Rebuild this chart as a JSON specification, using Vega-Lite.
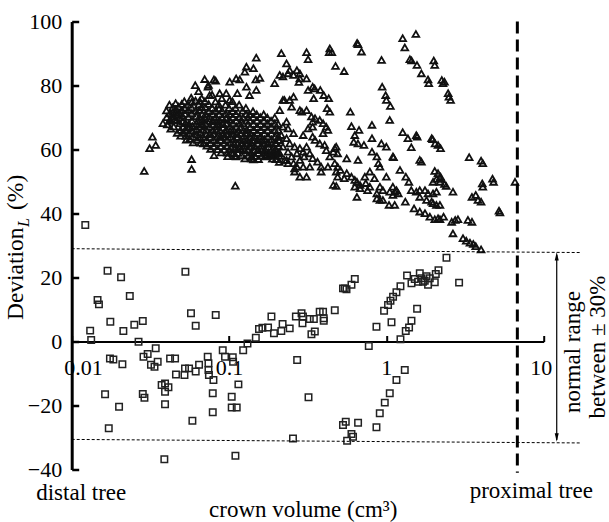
{
  "$schema": "https://vega.github.io/schema/vega-lite/v6.json",
  "width": 472,
  "height": 448,
  "autosize": {"type": "none"},
  "padding": {"left": 71.7, "top": 21.5, "right": 65.3, "bottom": 52.5},
  "config": {
    "font": "Liberation Serif",
    "view": {"stroke": null},
    "axis": {"grid": false, "title": null, "labelFont": "Liberation Serif"},
    "axisX": {"offset": -128, "format": "~g",
      "domainColor": "#000000", "domainWidth": 2, "tickColor": "#000000", "tickWidth": 2, "tickSize": -6,
      "labelFont": "Liberation Serif", "labelFontSize": 22, "labelColor": "#000000", "labelPadding": 22,
      "labelFlush": true, "labelFlushOffset": 8},
    "axisY": {"domainColor": "#000000", "domainWidth": 3, "tickColor": "#000000", "tickWidth": 2.5, "tickSize": -7,
      "labelFont": "Liberation Serif", "labelFontSize": 22, "labelColor": "#000000", "labelPadding": 17}
  },
  "datasets": {
    "squares": [
      {"volume":0.0122,"deviation":36.4},{"volume":0.0169,"deviation":22.1},{"volume":0.0206,"deviation":20.1},{"volume":0.0528,"deviation":21.8},
      {"volume":0.0146,"deviation":13.0},{"volume":0.0149,"deviation":11.6},{"volume":0.0234,"deviation":14.2},{"volume":0.0176,"deviation":6.2},
      {"volume":0.0131,"deviation":3.4},{"volume":0.0213,"deviation":3.3},{"volume":0.025,"deviation":5.2},{"volume":0.0283,"deviation":6.4},
      {"volume":0.0573,"deviation":8.8},{"volume":0.0614,"deviation":4.9},{"volume":0.0823,"deviation":8.3},{"volume":0.0133,"deviation":0.5},
      {"volume":0.0266,"deviation":-0.1},{"volume":0.0175,"deviation":-5.3},{"volume":0.0184,"deviation":-5.6},{"volume":0.021,"deviation":-7.1},
      {"volume":0.0342,"deviation":-2.1},{"volume":0.0304,"deviation":-3.9},{"volume":0.0286,"deviation":-4.8},{"volume":0.0352,"deviation":-6.3},
      {"volume":0.0319,"deviation":-7.3},{"volume":0.0336,"deviation":-7.9},{"volume":0.0422,"deviation":-5.3},{"volume":0.0454,"deviation":-5.3},
      {"volume":0.046,"deviation":-10.3},{"volume":0.0521,"deviation":-10.5},{"volume":0.0525,"deviation":-8.4},{"volume":0.0557,"deviation":-8.4},
      {"volume":0.0614,"deviation":-9.4},{"volume":0.0645,"deviation":-7.3},{"volume":0.0732,"deviation":-4.8},{"volume":0.074,"deviation":-6.8},
      {"volume":0.074,"deviation":-8.9},{"volume":0.0745,"deviation":-10.5},{"volume":0.0796,"deviation":-12.0},{"volume":0.0912,"deviation":-2.7},
      {"volume":0.0943,"deviation":-4.8},{"volume":0.1056,"deviation":-4.9},{"volume":0.1061,"deviation":-6.3},{"volume":0.1147,"deviation":-13.4},
      {"volume":0.0163,"deviation":-16.5},{"volume":0.0283,"deviation":-16.4},{"volume":0.029,"deviation":-17.6},{"volume":0.0373,"deviation":-13.6},
      {"volume":0.0392,"deviation":-13.1},{"volume":0.0412,"deviation":-14.3},{"volume":0.0392,"deviation":-15.7},{"volume":0.02,"deviation":-20.4},
      {"volume":0.0392,"deviation":-19.6},{"volume":0.0788,"deviation":-16.2},{"volume":0.104,"deviation":-17.3},{"volume":0.104,"deviation":-20.6},
      {"volume":0.1119,"deviation":-20.6},{"volume":0.0788,"deviation":-22.1},{"volume":0.0172,"deviation":-27.1},{"volume":0.0585,"deviation":-24.8},
      {"volume":0.0388,"deviation":-36.8},{"volume":0.1098,"deviation":-35.7},{"volume":0.63,"deviation":19.5},{"volume":0.6,"deviation":17.7},
      {"volume":0.544,"deviation":16.6},{"volume":0.53,"deviation":16.6},{"volume":0.558,"deviation":16.3},{"volume":0.47,"deviation":9.8},
      {"volume":0.377,"deviation":9.3},{"volume":0.396,"deviation":9.3},{"volume":0.4,"deviation":7.3},{"volume":0.4,"deviation":6.5},
      {"volume":0.289,"deviation":8.8},{"volume":0.266,"deviation":7.8},{"volume":0.295,"deviation":7.8},{"volume":0.326,"deviation":7.0},
      {"volume":0.346,"deviation":7.0},{"volume":0.293,"deviation":5.7},{"volume":0.351,"deviation":3.1},{"volume":0.334,"deviation":2.3},
      {"volume":0.186,"deviation":7.8},{"volume":0.219,"deviation":5.5},{"volume":0.243,"deviation":4.1},{"volume":0.215,"deviation":3.3},
      {"volume":0.193,"deviation":2.6},{"volume":0.177,"deviation":4.4},{"volume":0.163,"deviation":4.3},{"volume":0.155,"deviation":3.9},
      {"volume":0.148,"deviation":1.2},{"volume":0.131,"deviation":-0.6},{"volume":0.123,"deviation":-2.7},{"volume":0.865,"deviation":4.6},
      {"volume":0.773,"deviation":-1.4},{"volume":0.271,"deviation":-5.8},{"volume":0.32,"deviation":-17.4},{"volume":0.552,"deviation":-25.1},
      {"volume":0.53,"deviation":-26.1},{"volume":0.661,"deviation":-25.4},{"volume":0.6,"deviation":-28.9},{"volume":0.614,"deviation":-29.8},
      {"volume":0.563,"deviation":-31.0},{"volume":0.865,"deviation":-26.8},{"volume":0.908,"deviation":-22.4},{"volume":0.255,"deviation":-30.3},
      {"volume":2.41,"deviation":26.2},{"volume":1.354,"deviation":20.6},{"volume":1.444,"deviation":18.2},{"volume":1.515,"deviation":19.5},
      {"volume":1.631,"deviation":21.3},{"volume":1.672,"deviation":19.75},{"volume":1.754,"deviation":19.0},{"volume":1.841,"deviation":17.7},
      {"volume":1.887,"deviation":19.75},{"volume":2.061,"deviation":21.1},{"volume":2.144,"deviation":22.3},{"volume":2.031,"deviation":18.5},
      {"volume":1.711,"deviation":18.7},{"volume":1.591,"deviation":18.7},{"volume":2.899,"deviation":18.4},{"volume":1.229,"deviation":17.3},
      {"volume":1.159,"deviation":15.4},{"volume":1.103,"deviation":14.0},{"volume":1.062,"deviation":12.7},{"volume":1.025,"deviation":11.4},
      {"volume":0.967,"deviation":9.6},{"volume":1.568,"deviation":10.25},{"volume":1.078,"deviation":6.0},{"volume":1.444,"deviation":6.5},
      {"volume":1.394,"deviation":4.4},{"volume":1.328,"deviation":3.3},{"volume":1.229,"deviation":0.7},{"volume":1.309,"deviation":-8.9},
      {"volume":1.159,"deviation":-12.0},{"volume":1.051,"deviation":-16.2},{"volume":0.977,"deviation":-19.1},{"volume":1.8,"deviation":20.4}
    ],
    "triangles": [
      {"volume":0.0289,"deviation":53.3},{"volume":0.0313,"deviation":60.4},{"volume":0.0326,"deviation":64.0},{"volume":0.0342,"deviation":61.4},
      {"volume":0.038,"deviation":68.2},{"volume":0.0424,"deviation":68.9},{"volume":0.0451,"deviation":69.2},{"volume":0.0578,"deviation":57.0},
      {"volume":0.0578,"deviation":53.9},{"volume":0.1096,"deviation":48.7},{"volume":0.149,"deviation":88.7},{"volume":0.215,"deviation":90.1},
      {"volume":0.232,"deviation":86.9},{"volume":0.126,"deviation":84.3},{"volume":0.143,"deviation":85.4},{"volume":0.0802,"deviation":81.9},
      {"volume":0.0822,"deviation":81.5},{"volume":0.117,"deviation":81.9},{"volume":0.148,"deviation":81.9},{"volume":0.157,"deviation":82.4},
      {"volume":0.129,"deviation":79.6},{"volume":0.149,"deviation":78.6},{"volume":0.195,"deviation":80.7},{"volume":0.22,"deviation":82.8},
      {"volume":0.237,"deviation":83.8},{"volume":0.0735,"deviation":79.6},{"volume":0.0753,"deviation":77.0},{"volume":0.0872,"deviation":77.6},
      {"volume":0.113,"deviation":77.6},{"volume":0.101,"deviation":75.5},{"volume":0.135,"deviation":77.0},{"volume":0.058,"deviation":74.9},
      {"volume":0.0651,"deviation":75.2},{"volume":0.096,"deviation":77.6},{"volume":0.101,"deviation":81.2},{"volume":0.111,"deviation":82.2},
      {"volume":0.129,"deviation":85.9},{"volume":0.243,"deviation":84.8},{"volume":0.282,"deviation":82.2},{"volume":0.22,"deviation":75.5},
      {"volume":0.106,"deviation":58.8},{"volume":0.111,"deviation":57.8},{"volume":0.117,"deviation":60.9},{"volume":0.139,"deviation":57.8},
      {"volume":0.143,"deviation":56.9},{"volume":0.172,"deviation":58.3},{"volume":0.186,"deviation":58.3},{"volume":0.2,"deviation":59.3},
      {"volume":0.232,"deviation":56.7},{"volume":0.257,"deviation":55.7},{"volume":0.27,"deviation":54.6},
      {"volume":0.04,"deviation":72.2},{"volume":0.0402,"deviation":70.1},{"volume":0.0405,"deviation":67.8},{"volume":0.0418,"deviation":74.0},
      {"volume":0.042,"deviation":71.3},{"volume":0.0423,"deviation":69.5},{"volume":0.0426,"deviation":66.5},{"volume":0.0438,"deviation":73.1},
      {"volume":0.044,"deviation":71.8},{"volume":0.0442,"deviation":70.4},{"volume":0.0445,"deviation":67.2},{"volume":0.0458,"deviation":74.5},
      {"volume":0.046,"deviation":72.5},{"volume":0.0462,"deviation":71.0},{"volume":0.0465,"deviation":69.1},{"volume":0.0468,"deviation":65.2},
      {"volume":0.0478,"deviation":73.4},{"volume":0.048,"deviation":71.6},{"volume":0.0483,"deviation":70.0},{"volume":0.0486,"deviation":68.2},
      {"volume":0.049,"deviation":66.1},{"volume":0.0492,"deviation":64.3},{"volume":0.05,"deviation":74.2},{"volume":0.0502,"deviation":72.3},
      {"volume":0.0505,"deviation":70.6},{"volume":0.0508,"deviation":68.8},{"volume":0.051,"deviation":67.0},{"volume":0.0512,"deviation":65.4},
      {"volume":0.052,"deviation":75.1},{"volume":0.0523,"deviation":73.0},{"volume":0.0525,"deviation":71.2},{"volume":0.0528,"deviation":68.3},
      {"volume":0.053,"deviation":66.0},{"volume":0.0533,"deviation":64.2},{"volume":0.0535,"deviation":63.1},{"volume":0.0548,"deviation":74.0},
      {"volume":0.055,"deviation":72.4},{"volume":0.0552,"deviation":70.2},{"volume":0.0555,"deviation":68.0},{"volume":0.0558,"deviation":66.8},
      {"volume":0.056,"deviation":65.1},{"volume":0.0562,"deviation":63.3},{"volume":0.0575,"deviation":76.2},{"volume":0.0578,"deviation":73.1},
      {"volume":0.058,"deviation":71.3},{"volume":0.0582,"deviation":69.0},{"volume":0.0585,"deviation":67.3},{"volume":0.0588,"deviation":65.8},
      {"volume":0.059,"deviation":64.1},{"volume":0.0592,"deviation":62.2},{"volume":0.061,"deviation":80.1},{"volume":0.0612,"deviation":75.3},
      {"volume":0.0615,"deviation":72.1},{"volume":0.0618,"deviation":70.4},{"volume":0.062,"deviation":68.2},{"volume":0.0623,"deviation":66.3},
      {"volume":0.0625,"deviation":64.8},{"volume":0.0628,"deviation":63.0},{"volume":0.064,"deviation":78.2},{"volume":0.0642,"deviation":74.1},
      {"volume":0.0645,"deviation":72.4},{"volume":0.0648,"deviation":70.2},{"volume":0.065,"deviation":68.8},{"volume":0.0653,"deviation":67.1},
      {"volume":0.0655,"deviation":65.3},{"volume":0.0658,"deviation":63.7},{"volume":0.066,"deviation":62.1},{"volume":0.067,"deviation":76.0},
      {"volume":0.0672,"deviation":73.2},{"volume":0.0675,"deviation":71.0},{"volume":0.0678,"deviation":69.3},{"volume":0.068,"deviation":67.8},
      {"volume":0.0683,"deviation":66.2},{"volume":0.0686,"deviation":64.0},{"volume":0.0688,"deviation":61.9},{"volume":0.07,"deviation":82.0},
      {"volume":0.0703,"deviation":75.1},{"volume":0.0705,"deviation":73.3},{"volume":0.0708,"deviation":71.1},{"volume":0.071,"deviation":69.7},
      {"volume":0.0713,"deviation":68.1},{"volume":0.0716,"deviation":66.2},{"volume":0.0718,"deviation":64.7},{"volume":0.072,"deviation":63.0},
      {"volume":0.0723,"deviation":61.2},{"volume":0.074,"deviation":80.2},{"volume":0.0742,"deviation":74.2},{"volume":0.0745,"deviation":72.0},
      {"volume":0.0748,"deviation":70.3},{"volume":0.075,"deviation":68.9},{"volume":0.0753,"deviation":67.2},{"volume":0.0756,"deviation":65.1},
      {"volume":0.0758,"deviation":63.8},{"volume":0.076,"deviation":62.0},{"volume":0.0763,"deviation":60.2},{"volume":0.078,"deviation":77.1},
      {"volume":0.0782,"deviation":73.0},{"volume":0.0785,"deviation":71.2},{"volume":0.0788,"deviation":69.1},{"volume":0.079,"deviation":67.8},
      {"volume":0.0793,"deviation":66.1},{"volume":0.0796,"deviation":64.9},{"volume":0.0798,"deviation":63.1},{"volume":0.08,"deviation":61.0},
      {"volume":0.0803,"deviation":58.2},{"volume":0.082,"deviation":75.0},{"volume":0.0823,"deviation":72.2},{"volume":0.0826,"deviation":70.1},
      {"volume":0.083,"deviation":68.8},{"volume":0.0833,"deviation":67.2},{"volume":0.0836,"deviation":65.9},{"volume":0.084,"deviation":64.0},
      {"volume":0.0843,"deviation":62.2},{"volume":0.0846,"deviation":60.1},{"volume":0.086,"deviation":74.1},{"volume":0.0863,"deviation":72.8},
      {"volume":0.0866,"deviation":71.0},{"volume":0.087,"deviation":69.2},{"volume":0.0873,"deviation":67.9},{"volume":0.0876,"deviation":66.0},
      {"volume":0.088,"deviation":64.2},{"volume":0.0883,"deviation":62.9},{"volume":0.0886,"deviation":61.0},{"volume":0.089,"deviation":59.1},
      {"volume":0.09,"deviation":76.0},{"volume":0.0904,"deviation":72.1},{"volume":0.0908,"deviation":70.0},{"volume":0.0912,"deviation":68.2},
      {"volume":0.0916,"deviation":66.8},{"volume":0.092,"deviation":65.0},{"volume":0.0924,"deviation":63.9},{"volume":0.0928,"deviation":62.1},
      {"volume":0.0932,"deviation":60.0},{"volume":0.095,"deviation":74.0},{"volume":0.0953,"deviation":71.2},{"volume":0.0956,"deviation":69.8},
      {"volume":0.096,"deviation":68.1},{"volume":0.0963,"deviation":66.2},{"volume":0.0966,"deviation":64.8},{"volume":0.097,"deviation":63.1},
      {"volume":0.0973,"deviation":61.2},{"volume":0.0976,"deviation":59.0},{"volume":0.098,"deviation":57.9},{"volume":0.1,"deviation":73.0},
      {"volume":0.1004,"deviation":71.1},{"volume":0.1008,"deviation":69.2},{"volume":0.1012,"deviation":67.1},{"volume":0.1016,"deviation":65.8},
      {"volume":0.102,"deviation":64.1},{"volume":0.1024,"deviation":62.2},{"volume":0.1028,"deviation":60.8},{"volume":0.1032,"deviation":59.1},
      {"volume":0.105,"deviation":75.1},{"volume":0.1054,"deviation":72.0},{"volume":0.1058,"deviation":70.1},{"volume":0.1062,"deviation":68.2},
      {"volume":0.1066,"deviation":66.1},{"volume":0.107,"deviation":64.9},{"volume":0.1074,"deviation":63.2},{"volume":0.1078,"deviation":61.8},
      {"volume":0.1082,"deviation":60.1},{"volume":0.1086,"deviation":58.0},{"volume":0.11,"deviation":73.0},{"volume":0.1105,"deviation":71.1},
      {"volume":0.111,"deviation":69.0},{"volume":0.1115,"deviation":67.2},{"volume":0.112,"deviation":65.1},{"volume":0.1125,"deviation":63.8},
      {"volume":0.113,"deviation":62.0},{"volume":0.1135,"deviation":60.2},{"volume":0.114,"deviation":58.9},{"volume":0.116,"deviation":74.0},
      {"volume":0.1165,"deviation":70.2},{"volume":0.117,"deviation":68.1},{"volume":0.1175,"deviation":66.8},{"volume":0.118,"deviation":65.0},
      {"volume":0.1185,"deviation":63.1},{"volume":0.119,"deviation":61.9},{"volume":0.1195,"deviation":60.1},{"volume":0.12,"deviation":58.2},
      {"volume":0.122,"deviation":72.1},{"volume":0.1225,"deviation":70.0},{"volume":0.123,"deviation":68.2},{"volume":0.1235,"deviation":66.0},
      {"volume":0.124,"deviation":64.2},{"volume":0.1245,"deviation":62.8},{"volume":0.125,"deviation":61.1},{"volume":0.1255,"deviation":59.8},
      {"volume":0.126,"deviation":57.2},{"volume":0.128,"deviation":73.0},{"volume":0.1285,"deviation":71.1},{"volume":0.129,"deviation":68.9},
      {"volume":0.1295,"deviation":66.2},{"volume":0.13,"deviation":65.0},{"volume":0.1305,"deviation":63.1},{"volume":0.131,"deviation":61.8},
      {"volume":0.1315,"deviation":60.0},{"volume":0.132,"deviation":58.1},{"volume":0.135,"deviation":71.0},{"volume":0.1355,"deviation":69.1},
      {"volume":0.136,"deviation":67.0},{"volume":0.1365,"deviation":65.2},{"volume":0.137,"deviation":63.8},{"volume":0.1375,"deviation":62.1},
      {"volume":0.138,"deviation":60.9},{"volume":0.1385,"deviation":59.0},{"volume":0.139,"deviation":57.2},{"volume":0.142,"deviation":72.0},
      {"volume":0.1425,"deviation":70.1},{"volume":0.143,"deviation":68.0},{"volume":0.1435,"deviation":66.1},{"volume":0.144,"deviation":64.2},
      {"volume":0.1445,"deviation":62.9},{"volume":0.145,"deviation":61.1},{"volume":0.1455,"deviation":59.8},{"volume":0.146,"deviation":58.0},
      {"volume":0.15,"deviation":71.0},{"volume":0.1505,"deviation":69.1},{"volume":0.151,"deviation":67.0},{"volume":0.1515,"deviation":65.2},
      {"volume":0.152,"deviation":63.1},{"volume":0.1525,"deviation":61.9},{"volume":0.153,"deviation":60.0},{"volume":0.1535,"deviation":58.9},
      {"volume":0.154,"deviation":57.0},{"volume":0.158,"deviation":70.1},{"volume":0.1585,"deviation":68.0},{"volume":0.159,"deviation":66.1},
      {"volume":0.1595,"deviation":64.0},{"volume":0.16,"deviation":62.8},{"volume":0.1605,"deviation":61.1},{"volume":0.161,"deviation":59.8},
      {"volume":0.1615,"deviation":58.1},{"volume":0.166,"deviation":71.0},{"volume":0.1665,"deviation":69.0},{"volume":0.167,"deviation":67.1},
      {"volume":0.1675,"deviation":65.0},{"volume":0.168,"deviation":63.2},{"volume":0.1685,"deviation":61.8},{"volume":0.169,"deviation":60.1},
      {"volume":0.1695,"deviation":58.9},{"volume":0.17,"deviation":57.8},{"volume":0.175,"deviation":70.0},{"volume":0.1755,"deviation":68.1},
      {"volume":0.176,"deviation":66.0},{"volume":0.1765,"deviation":64.1},{"volume":0.177,"deviation":62.2},{"volume":0.1775,"deviation":60.9},
      {"volume":0.178,"deviation":59.1},{"volume":0.1785,"deviation":58.0},{"volume":0.185,"deviation":69.0},{"volume":0.1855,"deviation":67.1},
      {"volume":0.186,"deviation":65.0},{"volume":0.1865,"deviation":63.1},{"volume":0.187,"deviation":61.8},{"volume":0.1875,"deviation":60.0},
      {"volume":0.188,"deviation":58.9},{"volume":0.1885,"deviation":57.1},{"volume":0.195,"deviation":70.0},{"volume":0.1955,"deviation":68.1},
      {"volume":0.196,"deviation":66.0},{"volume":0.1965,"deviation":64.1},{"volume":0.197,"deviation":62.0},{"volume":0.1975,"deviation":60.2},
      {"volume":0.198,"deviation":58.1},{"volume":0.1985,"deviation":57.0},{"volume":0.205,"deviation":68.0},{"volume":0.2055,"deviation":66.1},
      {"volume":0.206,"deviation":64.0},{"volume":0.2065,"deviation":62.9},{"volume":0.207,"deviation":61.0},{"volume":0.2075,"deviation":59.1},
      {"volume":0.208,"deviation":58.0},{"volume":0.2085,"deviation":56.1},
      {"volume":0.652,"deviation":93.3},{"volume":0.66,"deviation":92.9},{"volume":0.695,"deviation":90.6},{"volume":1.27,"deviation":94.8},
      {"volume":1.54,"deviation":96.1},{"volume":1.31,"deviation":91.9},{"volume":0.932,"deviation":88.0},{"volume":0.437,"deviation":91.6},
      {"volume":0.433,"deviation":90.4},{"volume":0.45,"deviation":90.4},{"volume":0.311,"deviation":90.4},{"volume":0.318,"deviation":88.2},
      {"volume":0.475,"deviation":86.1},{"volume":0.539,"deviation":84.5},{"volume":1.41,"deviation":88.2},{"volume":1.445,"deviation":87.8},
      {"volume":1.565,"deviation":86.4},{"volume":1.67,"deviation":83.8},{"volume":1.84,"deviation":81.9},{"volume":1.86,"deviation":80.7},
      {"volume":2.0,"deviation":87.8},{"volume":2.03,"deviation":86.4},{"volume":2.25,"deviation":81.7},{"volume":2.29,"deviation":80.7},
      {"volume":2.34,"deviation":81.2},{"volume":2.47,"deviation":77.6},{"volume":2.5,"deviation":76.5},{"volume":2.56,"deviation":75.5},
      {"volume":0.94,"deviation":79.6},{"volume":0.99,"deviation":77.0},{"volume":1.0,"deviation":75.5},{"volume":1.06,"deviation":73.6},
      {"volume":0.59,"deviation":71.8},{"volume":1.05,"deviation":69.2},{"volume":0.81,"deviation":67.7},{"volume":0.6,"deviation":67.3},
      {"volume":0.67,"deviation":66.1},{"volume":1.27,"deviation":65.4},{"volume":1.37,"deviation":63.5},{"volume":1.44,"deviation":60.7},
      {"volume":1.55,"deviation":64.5},{"volume":1.57,"deviation":64.0},{"volume":1.94,"deviation":63.5},{"volume":2.04,"deviation":61.9},
      {"volume":2.13,"deviation":61.4},{"volume":2.21,"deviation":60.4},{"volume":1.97,"deviation":63.2},{"volume":1.63,"deviation":56.7},
      {"volume":1.11,"deviation":57.6},{"volume":1.67,"deviation":56.2},{"volume":0.63,"deviation":64.5},{"volume":0.66,"deviation":61.9},
      {"volume":0.72,"deviation":61.4},{"volume":0.62,"deviation":62.4},{"volume":0.81,"deviation":63.5},{"volume":0.93,"deviation":61.9},
      {"volume":1.0,"deviation":60.9},{"volume":0.81,"deviation":59.3},{"volume":0.87,"deviation":57.8},{"volume":1.22,"deviation":53.6},
      {"volume":1.33,"deviation":51.5},{"volume":1.39,"deviation":49.9},{"volume":2.03,"deviation":53.3},{"volume":2.13,"deviation":52.6},
      {"volume":2.21,"deviation":51.5},{"volume":2.08,"deviation":50.8},{"volume":1.98,"deviation":49.9},{"volume":2.19,"deviation":49.9},
      {"volume":2.34,"deviation":49.2},{"volume":2.4,"deviation":48.6},{"volume":2.19,"deviation":51.0},{"volume":1.44,"deviation":47.3},
      {"volume":1.55,"deviation":46.8},{"volume":1.63,"deviation":45.2},{"volume":1.8,"deviation":44.2},{"volume":1.94,"deviation":43.7},
      {"volume":2.08,"deviation":42.7},{"volume":1.63,"deviation":40.6},{"volume":1.76,"deviation":40.1},{"volume":1.89,"deviation":39.0},
      {"volume":2.03,"deviation":38.2},{"volume":2.19,"deviation":38.2},{"volume":1.63,"deviation":47.3},{"volume":1.76,"deviation":47.3},
      {"volume":1.84,"deviation":46.3},{"volume":1.98,"deviation":46.3},{"volume":2.08,"deviation":46.8},{"volume":1.98,"deviation":43.2},
      {"volume":2.19,"deviation":42.7},{"volume":2.13,"deviation":38.5},{"volume":2.31,"deviation":39.0},{"volume":2.6,"deviation":37.4},
      {"volume":2.74,"deviation":38.0},{"volume":2.85,"deviation":38.2},{"volume":3.3,"deviation":38.0},{"volume":3.5,"deviation":37.4},
      {"volume":1.1,"deviation":48.4},{"volume":1.16,"deviation":47.3},{"volume":1.19,"deviation":46.3},{"volume":1.04,"deviation":42.7},
      {"volume":1.13,"deviation":42.7},{"volume":1.32,"deviation":43.7},{"volume":1.5,"deviation":41.6},{"volume":0.91,"deviation":48.4},
      {"volume":0.95,"deviation":47.3},{"volume":1.05,"deviation":46.8},{"volume":1.13,"deviation":46.8},{"volume":1.1,"deviation":45.8},
      {"volume":0.65,"deviation":45.2},{"volume":0.63,"deviation":48.4},{"volume":0.68,"deviation":47.9},{"volume":0.74,"deviation":49.5},
      {"volume":0.785,"deviation":48.4},{"volume":0.73,"deviation":51.5},{"volume":0.785,"deviation":53.1},{"volume":0.84,"deviation":51.0},
      {"volume":0.76,"deviation":47.3},{"volume":0.87,"deviation":46.3},{"volume":0.91,"deviation":44.2},{"volume":0.95,"deviation":44.2},
      {"volume":0.87,"deviation":44.7},{"volume":0.46,"deviation":48.9},{"volume":0.48,"deviation":48.6},{"volume":0.51,"deviation":53.6},
      {"volume":0.48,"deviation":53.1},{"volume":0.56,"deviation":52.6},{"volume":0.49,"deviation":51.5},{"volume":0.54,"deviation":51.0},
      {"volume":0.6,"deviation":51.5},{"volume":0.63,"deviation":50.5},{"volume":0.385,"deviation":53.1},{"volume":0.56,"deviation":57.2},
      {"volume":0.66,"deviation":56.7},{"volume":0.65,"deviation":49.9},{"volume":0.68,"deviation":48.9},{"volume":0.21,"deviation":83.3},
      {"volume":0.257,"deviation":83.3},{"volume":0.27,"deviation":84.8},{"volume":0.282,"deviation":83.8},{"volume":0.311,"deviation":82.2},
      {"volume":0.278,"deviation":81.1},{"volume":0.318,"deviation":78.6},{"volume":0.34,"deviation":79.6},{"volume":0.35,"deviation":79.1},
      {"volume":0.38,"deviation":78.6},{"volume":0.4,"deviation":77.0},{"volume":0.43,"deviation":76.0},{"volume":0.345,"deviation":76.0},
      {"volume":0.311,"deviation":72.3},{"volume":0.29,"deviation":71.8},{"volume":0.257,"deviation":76.5},{"volume":0.243,"deviation":75.5},
      {"volume":0.225,"deviation":75.5},{"volume":0.21,"deviation":72.3},{"volume":0.25,"deviation":73.4},{"volume":0.282,"deviation":72.3},
      {"volume":0.42,"deviation":72.9},{"volume":0.437,"deviation":71.8},{"volume":0.334,"deviation":70.3},{"volume":0.352,"deviation":69.8},
      {"volume":0.34,"deviation":68.7},{"volume":0.377,"deviation":69.2},{"volume":0.396,"deviation":68.2},{"volume":0.415,"deviation":67.1},
      {"volume":0.425,"deviation":66.1},{"volume":0.396,"deviation":65.1},{"volume":0.34,"deviation":67.1},{"volume":0.318,"deviation":66.6},
      {"volume":0.296,"deviation":64.5},{"volume":0.232,"deviation":68.7},{"volume":0.22,"deviation":67.1},{"volume":0.237,"deviation":66.6},
      {"volume":0.215,"deviation":64.5},{"volume":0.232,"deviation":63.5},{"volume":0.257,"deviation":65.1},{"volume":0.243,"deviation":61.9},
      {"volume":0.261,"deviation":60.9},{"volume":0.282,"deviation":60.4},{"volume":0.296,"deviation":59.3},{"volume":0.311,"deviation":60.9},
      {"volume":0.326,"deviation":58.8},{"volume":0.34,"deviation":57.3},{"volume":0.365,"deviation":56.2},{"volume":0.385,"deviation":54.6},
      {"volume":0.425,"deviation":54.6},{"volume":0.437,"deviation":57.8},{"volume":0.47,"deviation":55.7},{"volume":0.49,"deviation":54.6},
      {"volume":0.48,"deviation":60.9},{"volume":0.46,"deviation":59.3},{"volume":0.261,"deviation":53.1},{"volume":0.282,"deviation":51.5},
      {"volume":0.311,"deviation":51.5},{"volume":0.326,"deviation":54.6},{"volume":0.237,"deviation":55.7},{"volume":0.21,"deviation":63.0},
      {"volume":0.22,"deviation":60.9},{"volume":0.21,"deviation":58.8},{"volume":0.225,"deviation":56.7},{"volume":0.237,"deviation":59.3},
      {"volume":0.25,"deviation":57.8},{"volume":0.27,"deviation":58.8},{"volume":0.282,"deviation":56.7},{"volume":0.296,"deviation":54.6},
      {"volume":0.3,"deviation":57.8},{"volume":0.261,"deviation":54.1},{"volume":0.34,"deviation":64.0},{"volume":0.352,"deviation":63.0},
      {"volume":0.377,"deviation":61.9},{"volume":0.405,"deviation":61.4},{"volume":0.415,"deviation":59.8},{"volume":0.47,"deviation":60.4},
      {"volume":0.49,"deviation":58.8},{"volume":0.89,"deviation":55.7},{"volume":0.91,"deviation":54.6},{"volume":1.0,"deviation":51.5},
      {"volume":1.1,"deviation":57.8},{"volume":3.36,"deviation":57.6},{"volume":4.0,"deviation":56.5},{"volume":4.1,"deviation":55.7},
      {"volume":4.73,"deviation":50.9},{"volume":4.8,"deviation":49.9},{"volume":6.57,"deviation":49.9},{"volume":4.07,"deviation":49.4},
      {"volume":4.1,"deviation":48.4},{"volume":2.65,"deviation":46.8},{"volume":3.5,"deviation":45.2},{"volume":3.7,"deviation":45.8},
      {"volume":3.82,"deviation":44.2},{"volume":4.0,"deviation":43.7},{"volume":5.2,"deviation":40.9},{"volume":5.27,"deviation":40.3},
      {"volume":2.65,"deviation":33.8},{"volume":3.07,"deviation":32.3},{"volume":3.22,"deviation":31.5},{"volume":3.4,"deviation":30.9},
      {"volume":3.57,"deviation":30.5},{"volume":3.7,"deviation":29.8},{"volume":4.0,"deviation":28.8}
    ]
  },
  "layer": [
    {
      "data": {"name": "squares"},
      "mark": {"type": "point", "shape": "square", "filled": false, "size": 42, "stroke": "#222222", "strokeWidth": 1.5, "opacity": 1},
      "encoding": {
        "x": {"field": "volume", "type": "quantitative", "title": null,
          "scale": {"type": "log", "domain": [0.01, 10], "nice": false},
          "axis": {"orient": "bottom", "values": [0.01, 0.1, 1, 10], "labelFont": "Liberation Serif", "labelFontSize": 22}},
        "y": {"field": "deviation", "type": "quantitative", "title": null,
          "scale": {"domain": [-40, 100], "nice": false, "zero": false},
          "axis": {"orient": "left", "values": [-40, -20, 0, 20, 40, 60, 80, 100], "labelFont": "Liberation Serif", "labelFontSize": 22}}
      }
    },
    {
      "data": {"name": "triangles"},
      "mark": {"type": "point", "shape": "triangle-up", "filled": false, "size": 45, "stroke": "#111111", "strokeWidth": 1.8, "opacity": 1},
      "encoding": {
        "x": {"field": "volume", "type": "quantitative", "title": null, "scale": {"type": "log", "domain": [0.01, 10], "nice": false}},
        "y": {"field": "deviation", "type": "quantitative", "title": null, "scale": {"domain": [-40, 100], "nice": false, "zero": false}}
      }
    },
    {
      "data": {"values": [{}]},
      "mark": {"type": "rule", "stroke": "#000000", "strokeWidth": 1, "strokeDash": [3, 2]},
      "encoding": {
        "x": {"datum": 0.01, "type": "quantitative", "title": null, "scale": {"type": "log", "domain": [0.01, 10], "nice": false}},
        "x2": {"datum": 17},
        "y": {"datum": 29.0, "type": "quantitative", "title": null, "scale": {"domain": [-40, 100], "nice": false, "zero": false}},
        "y2": {"datum": 27.8}
      }
    },
    {
      "data": {"values": [{}]},
      "mark": {"type": "rule", "stroke": "#000000", "strokeWidth": 1, "strokeDash": [3, 2]},
      "encoding": {
        "x": {"datum": 0.01, "type": "quantitative", "title": null, "scale": {"type": "log", "domain": [0.01, 10], "nice": false}},
        "x2": {"datum": 17},
        "y": {"datum": -30.6, "type": "quantitative", "title": null, "scale": {"domain": [-40, 100], "nice": false, "zero": false}},
        "y2": {"datum": -31.7}
      }
    },
    {
      "data": {"values": [{}]},
      "mark": {"type": "rule", "stroke": "#000000", "strokeWidth": 3, "strokeDash": [12, 6]},
      "encoding": {
        "x": {"datum": 6.8, "type": "quantitative", "title": null, "scale": {"type": "log", "domain": [0.01, 10], "nice": false}},
        "y": {"datum": 100, "type": "quantitative", "title": null, "scale": {"domain": [-40, 100], "nice": false, "zero": false}},
        "y2": {"datum": -41}
      }
    },
    {
      "data": {"values": [{}]},
      "mark": {"type": "rule", "stroke": "#000000", "strokeWidth": 1.2},
      "encoding": {
        "x": {"datum": 12.1, "type": "quantitative", "title": null, "scale": {"type": "log", "domain": [0.01, 10], "nice": false}},
        "y": {"datum": 27.0, "type": "quantitative", "title": null, "scale": {"domain": [-40, 100], "nice": false, "zero": false}},
        "y2": {"datum": -30.8}
      }
    },
    {
      "data": {"values": [{}]},
      "mark": {"type": "point", "shape": "M0,-1L0.4,0.7L-0.4,0.7Z", "filled": true, "size": 100, "color": "#000000", "opacity": 1},
      "encoding": {
        "x": {"datum": 12.1, "type": "quantitative", "title": null, "scale": {"type": "log", "domain": [0.01, 10], "nice": false}},
        "y": {"datum": 26.4, "type": "quantitative", "title": null, "scale": {"domain": [-40, 100], "nice": false, "zero": false}}
      }
    },
    {
      "data": {"values": [{}]},
      "mark": {"type": "point", "shape": "M0,1L0.4,-0.7L-0.4,-0.7Z", "filled": true, "size": 100, "color": "#000000", "opacity": 1},
      "encoding": {
        "x": {"datum": 12.1, "type": "quantitative", "title": null, "scale": {"type": "log", "domain": [0.01, 10], "nice": false}},
        "y": {"datum": -29.8, "type": "quantitative", "title": null, "scale": {"domain": [-40, 100], "nice": false, "zero": false}}
      }
    },
    {
      "data": {"values": [{}]},
      "mark": {"type": "text", "text": "distal tree", "font": "Liberation Serif", "fontSize": 23, "align": "center", "baseline": "alphabetic", "color": "#000000"},
      "encoding": {
        "x": {"datum": 0.0115, "type": "quantitative", "title": null, "scale": {"type": "log", "domain": [0.01, 10], "nice": false}},
        "y": {"datum": -49.6, "type": "quantitative", "title": null, "scale": {"domain": [-40, 100], "nice": false, "zero": false}}
      }
    },
    {
      "data": {"values": [{}]},
      "mark": {"type": "text", "text": "proximal tree", "font": "Liberation Serif", "fontSize": 23, "align": "center", "baseline": "alphabetic", "color": "#000000"},
      "encoding": {
        "x": {"datum": 8.34, "type": "quantitative", "title": null, "scale": {"type": "log", "domain": [0.01, 10], "nice": false}},
        "y": {"datum": -48.8, "type": "quantitative", "title": null, "scale": {"domain": [-40, 100], "nice": false, "zero": false}}
      }
    },
    {
      "data": {"values": [{}]},
      "mark": {"type": "text", "text": "crown volume (cm³)", "font": "Liberation Serif", "fontSize": 23, "align": "center", "baseline": "alphabetic", "color": "#000000"},
      "encoding": {
        "x": {"datum": 0.296, "type": "quantitative", "title": null, "scale": {"type": "log", "domain": [0.01, 10], "nice": false}},
        "y": {"datum": -54.8, "type": "quantitative", "title": null, "scale": {"domain": [-40, 100], "nice": false, "zero": false}}
      }
    },
    {
      "data": {"values": [{}]},
      "mark": {"type": "text", "text": "normal range", "font": "Liberation Serif", "fontSize": 23, "angle": 270, "align": "center", "baseline": "alphabetic", "color": "#000000"},
      "encoding": {
        "x": {"datum": 16.96, "type": "quantitative", "title": null, "scale": {"type": "log", "domain": [0.01, 10], "nice": false}},
        "y": {"datum": -3.3, "type": "quantitative", "title": null, "scale": {"domain": [-40, 100], "nice": false, "zero": false}}
      }
    },
    {
      "data": {"values": [{}]},
      "mark": {"type": "text", "text": "between ± 30%", "font": "Liberation Serif", "fontSize": 23, "angle": 270, "align": "center", "baseline": "alphabetic", "color": "#000000"},
      "encoding": {
        "x": {"datum": 24.45, "type": "quantitative", "title": null, "scale": {"type": "log", "domain": [0.01, 10], "nice": false}},
        "y": {"datum": -1.7, "type": "quantitative", "title": null, "scale": {"domain": [-40, 100], "nice": false, "zero": false}}
      }
    },
    {
      "data": {"values": [{}]},
      "mark": {"type": "text", "text": "Deviation", "font": "Liberation Serif", "fontSize": 23.5, "angle": 270, "align": "left", "baseline": "alphabetic", "color": "#000000"},
      "encoding": {
        "x": {"datum": 0.00488, "type": "quantitative", "title": null, "scale": {"type": "log", "domain": [0.01, 10], "nice": false}},
        "y": {"datum": 6.7, "type": "quantitative", "title": null, "scale": {"domain": [-40, 100], "nice": false, "zero": false}}
      }
    },
    {
      "data": {"values": [{}]},
      "mark": {"type": "text", "text": "L", "font": "Liberation Serif", "fontSize": 16, "fontStyle": "italic", "angle": 270, "align": "left", "baseline": "alphabetic", "color": "#000000"},
      "encoding": {
        "x": {"datum": 0.00533, "type": "quantitative", "title": null, "scale": {"type": "log", "domain": [0.01, 10], "nice": false}},
        "y": {"datum": 35.8, "type": "quantitative", "title": null, "scale": {"domain": [-40, 100], "nice": false, "zero": false}}
      }
    },
    {
      "data": {"values": [{}]},
      "mark": {"type": "text", "text": "(%)", "font": "Liberation Serif", "fontSize": 23.5, "angle": 270, "align": "left", "baseline": "alphabetic", "color": "#000000"},
      "encoding": {
        "x": {"datum": 0.00488, "type": "quantitative", "title": null, "scale": {"type": "log", "domain": [0.01, 10], "nice": false}},
        "y": {"datum": 41.1, "type": "quantitative", "title": null, "scale": {"domain": [-40, 100], "nice": false, "zero": false}}
      }
    }
  ]
}
